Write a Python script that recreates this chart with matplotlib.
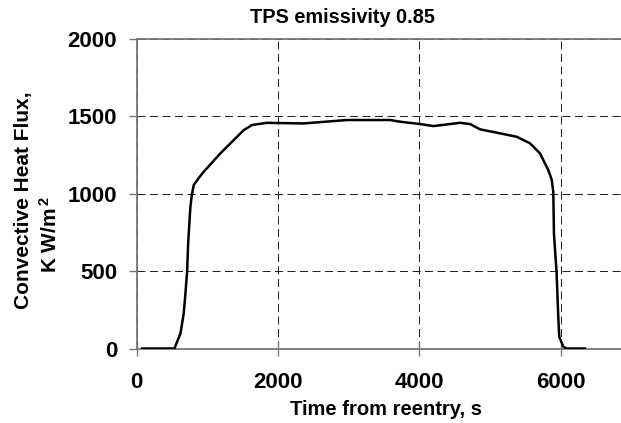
import matplotlib
matplotlib.use("Agg")
import matplotlib.pyplot as plt

plt.rcParams["font.family"] = ["Liberation Sans", "DejaVu Sans"]
plt.rcParams["font.weight"] = "bold"
plt.rcParams["mathtext.fontset"] = "custom"
plt.rcParams["mathtext.rm"] = "Liberation Sans:bold"
plt.rcParams["mathtext.it"] = "Liberation Sans:bold"
plt.rcParams["mathtext.bf"] = "Liberation Sans:bold"

# time from reentry (s) and convective heat flux (KW/m^2)
time_s = [80, 300, 537, 622, 668, 692, 716, 730, 762, 786, 810, 880, 950, 1186,
          1516, 1634, 1845, 2362, 2975, 3587, 3728, 4010, 4198, 4575, 4716,
          4857, 5140, 5375, 5563, 5705, 5822, 5870, 5893, 5902, 5940, 5963, 5977,
          6034, 6081, 6340]
heat_flux = [0, 0, 0, 98, 227, 356, 500, 678, 915, 1001, 1055, 1100, 1140, 1259,
             1409, 1442, 1456, 1452, 1474, 1474, 1463, 1448, 1435, 1456, 1448,
             1414, 1388, 1366, 1324, 1259, 1151, 1090, 1010, 743, 485, 205, 76,
             12, 0, 0]

x_ticks = [0, 2000, 4000, 6000]
y_ticks = [0, 500, 1000, 1500, 2000]

W, H = 621, 423
fig = plt.figure(figsize=(W/100, H/100), dpi=100)
ax = fig.add_axes([136.5/W, 1 - 348.5/H, (631.6 - 136.5)/W, 310/H])

ax.plot(time_s, heat_flux, color='black', lw=1.8, solid_joinstyle='round', zorder=3)

ax.set_xlim(0, 7000)
ax.set_ylim(0, 2000)
ax.set_xticks(x_ticks)
ax.set_yticks(y_ticks)
ax.set_xticklabels([str(v) for v in x_ticks], fontsize=16, fontweight='bold')
ax.set_yticklabels([str(v) for v in y_ticks], fontsize=16, fontweight='bold')

ax.grid(True, color='#222222', linestyle=(0, (8, 4.5)), linewidth=0.72)

for s in ['left', 'bottom', 'top']:
    ax.spines[s].set_color('#777777')
    ax.spines[s].set_linewidth(1.3)
ax.spines['right'].set_visible(False)

ax.tick_params(axis='x', direction='inout', length=10, width=1, color='#777777', pad=12)
ax.tick_params(axis='y', direction='out', length=6, width=1, color='#777777', pad=8)

fig.text(342/W, 1 - 23/H, 'TPS emissivity 0.85', fontsize=14.3, fontweight='bold',
         ha='center', va='baseline')
fig.text(386/W, 1 - 415/H, 'Time from reentry, s', fontsize=14.5, fontweight='bold',
         ha='center', va='baseline')
fig.text(24/W, 1 - 200/H, 'Convective Heat Flux,', fontsize=15, fontweight='bold',
         rotation=90, ha='center', va='center')
fig.text(50/W, 1 - 235/H, 'K W/m$^{\\,2}$', fontsize=15, fontweight='bold',
         rotation=90, ha='center', va='center')

plt.savefig('out.png', dpi=100)
